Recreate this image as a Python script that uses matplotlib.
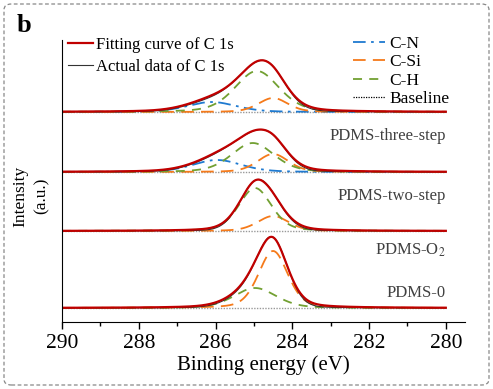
import numpy as np
import matplotlib
matplotlib.use("Agg")
import matplotlib.pyplot as plt
from matplotlib.ticker import MultipleLocator
from matplotlib.patches import FancyBboxPatch
from matplotlib.lines import Line2D

plt.rcParams["font.family"] = ["Liberation Serif", "DejaVu Serif"]
plt.rcParams["mathtext.fontset"] = "stix"

# --------------------------------------------------
# Data: fitted C 1s components (centre eV, height a.u., FWHM eV)
# spectra listed top to bottom
# --------------------------------------------------
samples = ["PDMS-three-step", "PDMS-two-step", "PDMS-O$_2$", "PDMS-0"]
offsets = [210, 150, 91, 14]
label_y = [186, 126, 72, 29]

cn_center = [286.1, 285.96, None, None]
cn_height = [10, 12, 0, 0]
cn_fwhm = [1.5, 1.5, 1.5, 1.5]

csi_center = [284.5, 284.5, 284.5, 284.5]
csi_height = [14, 18, 15, 57]
csi_fwhm = [0.9, 0.95, 0.95, 0.9]

ch_center = [284.92, 285.03, 284.97, 284.97]
ch_height = [41, 29, 43, 20]
ch_fwhm = [1.35, 1.3, 1.0, 1.3]

eta_fit = 0.3    # Lorentzian share of the fitted line shape
eta_data = 0.1

energy = np.linspace(290, 280, 600)


def peak(x, c, h, w, eta):
    if c is None or h == 0:
        return np.zeros_like(x)
    g = np.exp(-4 * np.log(2) * ((x - c) / w) ** 2)
    lor = 1.0 / (1 + (2 * (x - c) / w) ** 2)
    return h * (eta * lor + (1 - eta) * g)


# --------------------------------------------------
# Plot
# --------------------------------------------------
fig = plt.figure(figsize=(4.93, 3.89), dpi=100)
ax = fig.add_axes([62 / 493, 67 / 389, 403 / 493, 282 / 389])

c_red = "#c00000"
c_blk = "#333333"
c_blue = "#1f7ad0"
c_orange = "#f57a1a"
c_green = "#72a032"

for i in range(len(samples)):
    off = offsets[i]
    cn = peak(energy, cn_center[i], cn_height[i], cn_fwhm[i], eta_fit)
    csi = peak(energy, csi_center[i], csi_height[i], csi_fwhm[i], eta_fit)
    ch = peak(energy, ch_center[i], ch_height[i], ch_fwhm[i], eta_fit)
    fit = cn + csi + ch
    data = (peak(energy, cn_center[i], cn_height[i], cn_fwhm[i], eta_data)
            + peak(energy, csi_center[i], csi_height[i], csi_fwhm[i], eta_data)
            + peak(energy, ch_center[i], ch_height[i], ch_fwhm[i], eta_data))

    ax.plot(energy, np.full_like(energy, off), color="#999999", lw=1.0, ls=(0, (1, 1)))
    if cn_height[i] > 0:
        ax.plot(energy, off + cn, color=c_blue, lw=1.3, ls=(0, (7, 3, 1.5, 3)))
    ax.plot(energy, off + csi, color=c_orange, lw=1.3, ls=(0, (7, 4)))
    ax.plot(energy, off + ch, color=c_green, lw=1.3, ls=(0, (5, 4)))
    ax.plot(energy, off + data, color=c_blk, lw=0.8)
    ax.plot(energy, off + fit, color=c_red, lw=1.6)

    ax.text(280.0, label_y[i], samples[i], ha="right", va="center",
            fontsize=12, color="#404040")

ax.set_xlim(290, 279.5)
ax.set_ylim(0, 282)
ax.set_xticks([290, 288, 286, 284, 282, 280])
ax.xaxis.set_minor_locator(MultipleLocator(1))
ax.tick_params(axis="x", which="major", direction="out", length=5, width=1,
               labelsize=15.5, pad=4)
ax.tick_params(axis="x", which="minor", direction="out", length=3, width=1)
ax.set_yticks([])
ax.spines["top"].set_visible(False)
ax.spines["right"].set_visible(False)
ax.set_xlabel("Binding energy (eV)", fontsize=15, labelpad=1)

fig.text(31 / 493, 1 - 196 / 389, "Intensity\n(a.u.)", rotation=90,
         ha="center", va="center", fontsize=12.5, linespacing=1.5)
fig.text(17 / 493, 1 - 26 / 389, "b", fontsize=19, fontweight="bold",
         ha="left", va="center")

# legends
h_left = [Line2D([], [], color=c_red, lw=1.6),
          Line2D([], [], color=c_blk, lw=0.8)]
leg1 = ax.legend(h_left, ["Fitting curve of C 1s", "Actual data of C 1s"],
                 loc="upper left", bbox_to_anchor=(68 / 493, 1 - 37 / 389),
                 bbox_transform=fig.transFigure, frameon=False, fontsize=12,
                 borderpad=0, borderaxespad=0, handlelength=1.5,
                 handletextpad=0.2, labelspacing=0.35)
ax.add_artist(leg1)

h_right = [Line2D([], [], color=c_blue, lw=1.3, ls=(0, (7, 3, 1.5, 3))),
           Line2D([], [], color=c_orange, lw=1.3, ls=(0, (7, 4))),
           Line2D([], [], color=c_green, lw=1.3, ls=(0, (5, 4))),
           Line2D([], [], color="black", lw=0.9, ls=(0, (1, 1)))]
ax.legend(h_right, ["C-N", "C-Si", "C-H", "Baseline"],
          loc="upper left", bbox_to_anchor=(353 / 493, 1 - 36 / 389),
          bbox_transform=fig.transFigure, frameon=False, fontsize=12.5,
          borderpad=0, borderaxespad=0, handlelength=1.85,
          handletextpad=0.25, labelspacing=0.12)

# dashed rounded frame
frame = FancyBboxPatch((4 / 493, 4 / 389), 485 / 493, 381 / 389,
                       boxstyle="round,pad=0,rounding_size=0.015",
                       transform=fig.transFigure, fill=False,
                       ec="#888888", lw=0.9, ls=(0, (3, 2)))
fig.patches.append(frame)

fig.savefig("out.png", dpi=100)
